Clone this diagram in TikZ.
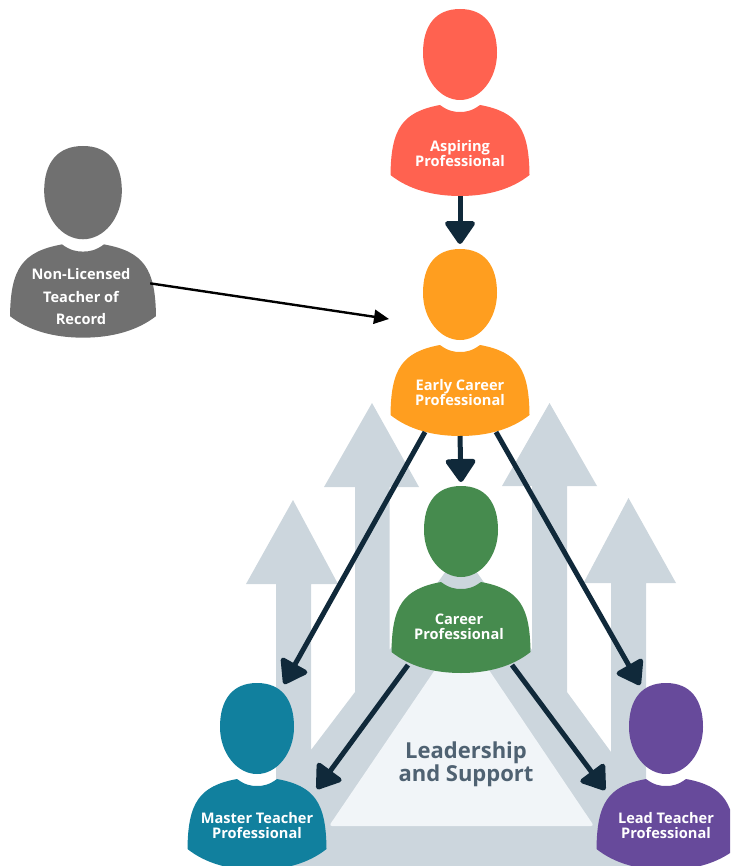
\documentclass[tikz,border=0pt]{standalone}
\usepackage{fontspec}
\setmainfont{Open Sans}
\usetikzlibrary{arrows.meta}

\definecolor{coral}{HTML}{FF6250}
\definecolor{amber}{HTML}{FF9E1F}
\definecolor{leaf}{HTML}{468B4E}
\definecolor{teal}{HTML}{11809E}
\definecolor{plum}{HTML}{674A9B}
\definecolor{slate}{HTML}{707070}
\definecolor{ink}{HTML}{10293A}
\definecolor{haze}{HTML}{CCD6DD}
\definecolor{mist}{HTML}{F1F5F8}
\definecolor{steel}{HTML}{4F6272}

\tikzset{
	person/.pic={
		% head
		\fill[pic actions] (0,0) .. controls (24,0) and (37,16) .. (37,44)
			.. controls (37,70) and (20,91) .. (0,91)
			.. controls (-20,91) and (-37,70) .. (-37,44)
			.. controls (-37,16) and (-24,0) .. (0,0) -- cycle;
		% body
		\fill[pic actions] (-20,96) .. controls (-12,102) and (-6,103) .. (0,103)
			.. controls (6,103) and (12,102) .. (20,96)
			.. controls (58,103) and (69,120) .. (69.5,166)
			.. controls (52,180) and (28,187) .. (0,187)
			.. controls (-28,187) and (-52,180) .. (-69.5,166)
			.. controls (-69,120) and (-58,103) .. (-20,96) -- cycle;
		\coordinate (-top) at (0,0);
		\coordinate (-hl) at (-26,2);
		\coordinate (-hr) at (27,1);
		\coordinate (-sl) at (-61,107);
		\coordinate (-sr) at (60,106);
		\coordinate (-side) at (64,134);
		\coordinate (-bot) at (0,187);
		\coordinate (-bl) at (-35,183);
		\coordinate (-br) at (36,183);
		\coordinate (-fl) at (-53,179);
		\coordinate (-fr) at (51,179);
	},
	label/.style={text=white,font=\fontsize{14.6}{15}\selectfont\bfseries,align=center,inner sep=0pt},
	conn/.style={draw=ink,line width=5pt,-{Triangle[length=25pt,width=33pt,round]}},
}

\begin{document}
\begin{tikzpicture}[x=1pt,y=-1pt]
	\clip (0,0) rectangle (730,866);

	% big arrows behind
	\fill[haze] (461,550) -- (389.5,650) -- (389.5,487) -- (419,487) -- (372,403) -- (324,487) -- (355,487)
		-- (355,692) -- (311,750) -- (311,584) -- (338,584) -- (293,500) -- (246,584) -- (276,584) -- (276,866)
		-- (646,866) -- (646,583) -- (676,583) -- (628.5,498) -- (583.5,583) -- (611,583) -- (611,752)
		-- (567,692) -- (567,486) -- (597,486) -- (549.5,403) -- (502,486) -- (532,486) -- (532,650) -- cycle;
	\fill[mist,rounded corners=3pt] (462,630) -- (329,826) -- (594,826) -- cycle;
	\node[text=steel,font=\fontsize{22}{23}\selectfont\bfseries,align=center,inner sep=0pt] (leadership) at (466,764) {Leadership\\and Support};

	% people
	\foreach \who/\x/\y/\col in {aspiring/460/9/coral,early/460/249/amber,career/461/486/leaf,master/257/683/teal,lead/666/683/plum}
	{
		\pic[fill=\col] (\who) at (\x,\y) {person};
	}
	\pic[fill=slate,xscale=1.05,yscale=1.025] (nonlicensed) at (83,146) {person};

	\node[label] (aspiringtext) at (460,154) {Aspiring\\Professional};
	\node[label] (earlytext) at (460,393) {Early Career\\Professional};
	\node[label] (careertext) at (459,627) {Career\\Professional};
	\node[label] (mastertext) at (257,826) {Master Teacher\\Professional};
	\node[label] (leadtext) at (666,826) {Lead Teacher\\Professional};
	\node[label,font=\fontsize{14.6}{22.5}\selectfont\bfseries] (nonlicensedtext) at (81,297) {Non-Licensed\\Teacher of\\Record};

	% connectors
	\coordinate (earlyin) at (389,319);
	\draw[conn] (aspiring-bot) -- ([yshift=5pt]early-top);
	\draw[conn] (early-bot) -- ([yshift=4pt]career-top);
	\draw[conn] (early-bl) -- (master-hr);
	\draw[conn] (early-br) -- (lead-hl);
	\draw[conn] (career-fl) -- (master-sr);
	\draw[conn] (career-fr) -- (lead-sl);
	\draw[black,line width=2.4pt,-{Triangle[length=15pt,width=14pt]}] (nonlicensed-side) -- (earlyin);
\end{tikzpicture}
\end{document}
